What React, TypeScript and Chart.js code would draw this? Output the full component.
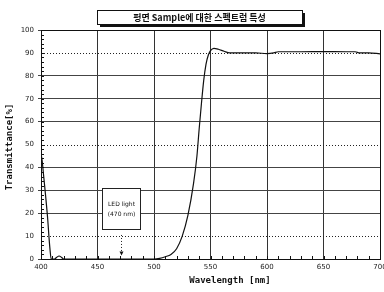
import React, { useEffect, useRef } from "react";
import { Chart, registerables } from "chart.js";

Chart.register(...registerables);

const wavelengths = [400, 401, 402, 404, 406, 407, 408, 409, 412, 414, 416, 418, 420, 450, 480, 500, 505, 510, 515, 520, 525, 530, 535, 538, 540, 542, 544, 546, 548, 550, 553, 557, 562, 567, 575, 590, 600, 606, 610, 630, 650, 670, 678, 682, 690, 700];
const transmittance = [46, 43, 38, 28, 17, 10, 4, 0, 0, 0.8, 1.3, 0.8, 0, 0, 0, 0, 0.3, 1, 2, 4.5, 10, 19, 33, 45, 57, 68, 78, 85, 89, 91, 92, 91.6, 90.7, 90, 90, 90, 89.7, 90, 90.5, 90.5, 90.6, 90.5, 90.5, 90, 90, 89.6];
const xTicks = [400, 450, 500, 550, 600, 650, 700];
const yTicks = [0, 10, 20, 30, 40, 50, 60, 70, 80, 90, 100];
const dottedY = [10, 50, 90];
const titleText = "평면 Sample에 대한 스펙트럼 특성";
const xTitle = "Wavelength [nm]";
const yTitle = "Transmittance[%]";
const ledLines = ["LED light", "(470 nm)"];
const ledBox = { x0: 454, x1: 488, y0: 31.2, y1: 13 };
const ledArrow = { x: 471, yFrom: 10.5, yTo: 1.5 };

export default function App() {
  const ref = useRef<HTMLCanvasElement | null>(null);
  useEffect(() => {
    if (!ref.current) return;
    const deco = {
      id: "deco",
      beforeDatasetsDraw(chart: any) {
        const { ctx, chartArea: a, scales } = chart;
        const xs = scales.x, ys = scales.y;
        ctx.save();
        ctx.strokeStyle = "#222";
        ctx.lineWidth = 1;
        ctx.setLineDash([1, 2]);
        dottedY.forEach((v) => {
          const y = Math.round(ys.getPixelForValue(v)) + 0.5;
          ctx.beginPath();
          ctx.moveTo(a.left, y);
          ctx.lineTo(a.right, y);
          ctx.stroke();
        });
        ctx.setLineDash([]);
        ctx.strokeStyle = "#111";
        for (let v = 0; v <= 100; v += 2) {
          const y = Math.round(ys.getPixelForValue(v)) + 0.5;
          ctx.beginPath();
          ctx.moveTo(a.left, y);
          ctx.lineTo(a.left + 3, y);
          ctx.stroke();
        }
        for (let v = 400; v <= 700; v += 10) {
          const x = Math.round(xs.getPixelForValue(v)) + 0.5;
          ctx.beginPath();
          ctx.moveTo(x, a.bottom);
          ctx.lineTo(x, a.bottom - 3);
          ctx.stroke();
        }
        const bx0 = Math.round(xs.getPixelForValue(ledBox.x0)) + 0.5;
        const bx1 = Math.round(xs.getPixelForValue(ledBox.x1)) + 0.5;
        const by0 = Math.round(ys.getPixelForValue(ledBox.y0)) + 0.5;
        const by1 = Math.round(ys.getPixelForValue(ledBox.y1)) + 0.5;
        ctx.fillStyle = "#fff";
        ctx.fillRect(bx0, by0, bx1 - bx0, by1 - by0);
        ctx.strokeStyle = "#222";
        ctx.strokeRect(bx0, by0, bx1 - bx0, by1 - by0);
        ctx.fillStyle = "#111";
        ctx.font = "6px 'DejaVu Sans'";
        ctx.textAlign = "center";
        ctx.textBaseline = "middle";
        const cx = (bx0 + bx1) / 2;
        const cy = (by0 + by1) / 2;
        ctx.fillText(ledLines[0], cx, cy - 5);
        ctx.fillText(ledLines[1], cx, cy + 5);
        const ax = Math.round(xs.getPixelForValue(ledArrow.x)) + 0.5;
        const ay0 = ys.getPixelForValue(ledArrow.yFrom);
        const ay1 = ys.getPixelForValue(ledArrow.yTo);
        ctx.setLineDash([1, 2]);
        ctx.beginPath();
        ctx.moveTo(ax, ay0);
        ctx.lineTo(ax, ay1);
        ctx.stroke();
        ctx.setLineDash([]);
        ctx.beginPath();
        ctx.moveTo(ax - 2, ay1 - 4);
        ctx.lineTo(ax + 2, ay1 - 4);
        ctx.lineTo(ax, ay1);
        ctx.closePath();
        ctx.fill();
        ctx.restore();
      },
      afterDraw(chart: any) {
        const { ctx, chartArea: a } = chart;
        ctx.save();
        ctx.strokeStyle = "#111";
        ctx.lineWidth = 1;
        ctx.strokeRect(Math.round(a.left) + 0.5, Math.round(a.top) + 0.5, Math.round(a.right - a.left), Math.round(a.bottom - a.top));
        const tx0 = 97, tx1 = 302, ty0 = 10, ty1 = 24;
        ctx.fillStyle = "#111";
        ctx.fillRect(tx0 + 3, ty0 + 3, tx1 - tx0, ty1 - ty0);
        ctx.fillStyle = "#fff";
        ctx.fillRect(tx0, ty0, tx1 - tx0, ty1 - ty0);
        ctx.strokeRect(tx0 + 0.5, ty0 + 0.5, tx1 - tx0, ty1 - ty0);
        ctx.fillStyle = "#111";
        ctx.font = "bold 9px 'Noto Sans CJK KR'";
        ctx.textAlign = "center";
        ctx.textBaseline = "middle";
        ctx.fillText(titleText, (tx0 + tx1) / 2, (ty0 + ty1) / 2 + 1);
        ctx.font = "bold 9px 'DejaVu Sans Mono'";
        ctx.fillText(xTitle, 230, 281);
        ctx.translate(10, 147);
        ctx.rotate(-Math.PI / 2);
        ctx.fillText(yTitle, 0, 0);
        ctx.restore();
      },
    };
    const chart = new Chart(ref.current, {
      type: "line",
      data: {
        datasets: [
          {
            data: wavelengths.map((x, i) => ({ x, y: transmittance[i] })),
            borderColor: "#111",
            borderWidth: 1.2,
            pointRadius: 0,
            cubicInterpolationMode: "monotone",
            fill: false,
          },
        ],
      },
      options: {
        animation: false,
        responsive: false,
        devicePixelRatio: 1,
        layout: { padding: { top: 30, right: 4, left: 0, bottom: 0 } },
        plugins: { legend: { display: false }, tooltip: { enabled: false } },
        scales: {
          x: {
            type: "linear",
            min: 400,
            max: 700,
            afterBuildTicks: (s: any) => {
              s.ticks = xTicks.map((v) => ({ value: v }));
            },
            afterFit: (s: any) => {
              s.height = 33;
              s.paddingLeft = 0;
              s.paddingRight = 0;
            },
            ticks: {
              color: "#222",
              font: { size: 7, family: "'DejaVu Sans'" },
              maxRotation: 0,
              padding: 4,
            },
            grid: { color: "#333", lineWidth: 1, drawTicks: false },
            border: { color: "#111", width: 1 },
          },
          y: {
            min: 0,
            max: 100,
            afterBuildTicks: (s: any) => {
              s.ticks = yTicks.map((v) => ({ value: v }));
            },
            afterFit: (s: any) => {
              s.width = 41;
              s.paddingTop = 0;
              s.paddingBottom = 0;
            },
            ticks: {
              color: "#222",
              font: { size: 7, family: "'DejaVu Sans'" },
              padding: 4,
            },
            grid: {
              color: (c: any) => (dottedY.includes(c.tick?.value) ? "rgba(0,0,0,0)" : "#444"),
              lineWidth: 1,
              drawTicks: true,
              tickLength: 3,
            },
            border: { color: "#111", width: 1 },
          },
        },
      },
      plugins: [deco],
    } as any);
    return () => chart.destroy();
  }, []);
  return (
    <div style={{ position: "fixed", left: 0, top: 0, width: 384, height: 292, background: "#fff" }}>
      <canvas ref={ref} width={384} height={292} />
    </div>
  );
}
